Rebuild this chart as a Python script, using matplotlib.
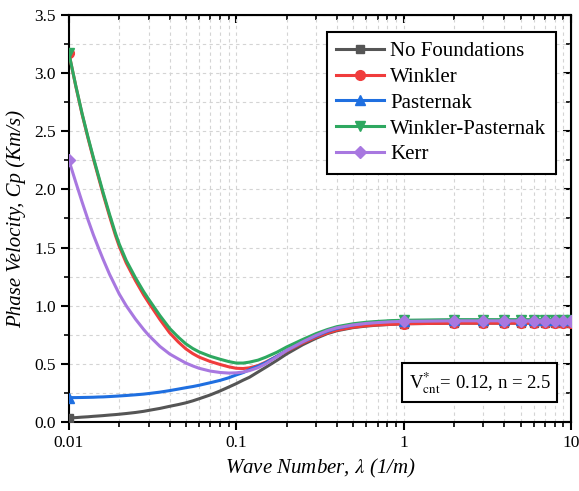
import numpy as np
import matplotlib
matplotlib.use('Agg')
import matplotlib.pyplot as plt
from matplotlib.ticker import MultipleLocator, LogLocator, FixedFormatter, FixedLocator, NullFormatter

plt.rcParams['font.family'] = 'Liberation Serif'
plt.rcParams['mathtext.fontset'] = 'stix'

# wave number (1/m)
lam = [0.01, 0.011, 0.012, 0.013, 0.014, 0.015, 0.016, 0.0175, 0.019, 0.02,
       0.022, 0.025, 0.028, 0.03, 0.035, 0.04, 0.045, 0.05, 0.055, 0.06,
       0.07, 0.08, 0.09, 0.1,
       0.11, 0.12, 0.135, 0.15, 0.175, 0.2, 0.25, 0.3, 0.35, 0.4,
       0.5, 0.6, 0.7, 0.85, 1,
       2, 3, 4, 5, 6, 7, 8, 9, 10]

no_found = [0.035, 0.038, 0.042, 0.045, 0.049, 0.052, 0.055, 0.06, 0.064, 0.067,
            0.073, 0.082, 0.092, 0.1, 0.117, 0.135, 0.15, 0.165, 0.182, 0.2,
            0.233, 0.267, 0.3, 0.33,
            0.36, 0.385, 0.43, 0.47, 0.53, 0.585, 0.665, 0.72, 0.76, 0.785,
            0.812, 0.825, 0.833, 0.84, 0.845,
            0.85, 0.85, 0.85, 0.85, 0.85, 0.85, 0.85, 0.85, 0.85]
winkler = [3.17, 2.886, 2.644, 2.442, 2.265, 2.108, 1.961, 1.769, 1.602, 1.51,
           1.368, 1.215, 1.092, 1.025, 0.881, 0.767, 0.689, 0.629, 0.588, 0.558,
           0.52, 0.495, 0.475, 0.462,
           0.46, 0.466, 0.485, 0.515, 0.565, 0.61, 0.68, 0.73, 0.765, 0.79,
           0.815, 0.828, 0.835, 0.84, 0.845,
           0.85, 0.85, 0.85, 0.85, 0.85, 0.85, 0.85, 0.85, 0.85]
pasternak = [0.21, 0.21, 0.211, 0.212, 0.213, 0.215, 0.216, 0.219, 0.222, 0.224,
             0.228, 0.234, 0.24, 0.245, 0.257, 0.27, 0.283, 0.295, 0.305, 0.316,
             0.338, 0.358, 0.38, 0.405,
             0.425, 0.45, 0.48, 0.51, 0.565, 0.615, 0.69, 0.74, 0.78, 0.805,
             0.835, 0.85, 0.86, 0.867, 0.87,
             0.875, 0.875, 0.875, 0.875, 0.875, 0.875, 0.875, 0.875, 0.875]
wink_past = [3.17, 2.89, 2.65, 2.45, 2.275, 2.12, 1.975, 1.785, 1.62, 1.53,
             1.39, 1.24, 1.12, 1.055, 0.915, 0.805, 0.73, 0.672, 0.632, 0.603,
             0.565, 0.54, 0.52, 0.507,
             0.507, 0.515, 0.532, 0.557, 0.60, 0.645, 0.71, 0.76, 0.795, 0.82,
             0.845, 0.858, 0.865, 0.872, 0.875,
             0.88, 0.88, 0.88, 0.88, 0.88, 0.88, 0.88, 0.88, 0.88]
kerr = [2.25, 2.06, 1.89, 1.74, 1.61, 1.50, 1.40, 1.27, 1.165, 1.10,
        1.00, 0.885, 0.795, 0.745, 0.65, 0.585, 0.543, 0.507, 0.482, 0.462,
        0.438, 0.426, 0.421, 0.423,
        0.43, 0.442, 0.467, 0.50, 0.56, 0.615, 0.69, 0.745, 0.785, 0.81,
        0.835, 0.848, 0.855, 0.862, 0.865,
        0.87, 0.87, 0.87, 0.87, 0.87, 0.87, 0.87, 0.87, 0.87]

names = ['No Foundations', 'Winkler', 'Pasternak', 'Winkler-Pasternak', 'Kerr']
series = [no_found, winkler, pasternak, wink_past, kerr]
colors = ['#555555', '#F03C3C', '#1F6FE0', '#2EA860', '#A878E0']
markers = ['s', 'o', '^', 'v', 'D']
msizes = [6, 7, 7, 7, 6]

# markers only at 0.01 and at the integers 1..10
mark_idx = [0] + list(range(lam.index(1), len(lam)))

fig = plt.figure(figsize=(5.79, 4.91), dpi=100)
ax = fig.add_axes([0.119, 0.1405, 0.867, 0.829])

for name, vals, c, m, ms in zip(names, series, colors, markers, msizes):
    ax.plot(lam, vals, color=c, lw=2.2, marker=m, ms=ms, markevery=mark_idx,
            label=name, zorder=3)

ax.set_xscale('log')
ax.set_xlim(0.01, 10)
ax.set_ylim(0, 3.5)
ax.xaxis.set_major_locator(FixedLocator([0.01, 0.1, 1, 10]))
ax.xaxis.set_major_formatter(FixedFormatter(['0.01', '0.1', '1', '10']))
ax.xaxis.set_minor_locator(LogLocator(base=10, subs=np.arange(2, 10)))
ax.xaxis.set_minor_formatter(NullFormatter())
ax.yaxis.set_major_locator(MultipleLocator(0.5))
ax.yaxis.set_minor_locator(MultipleLocator(0.25))
ax.yaxis.set_major_formatter(plt.FuncFormatter(lambda v, p: '%.1f' % v))

ax.tick_params(which='major', direction='out', length=6, width=1.5, labelsize=12.5)
ax.tick_params(which='minor', direction='out', length=3.5, width=1.2)
ax.grid(True, which='both', ls=(0, (3, 3)), color='#d4d4d4', lw=0.8)
for sp in ax.spines.values():
    sp.set_linewidth(1.5)

# inward ticks on top and right
top = ax.secondary_xaxis('top')
top.set_xticks([0.01, 0.1, 1, 10])
top.xaxis.set_minor_locator(LogLocator(base=10, subs=np.arange(2, 10)))
top.tick_params(which='major', direction='in', length=6, width=1.5, labeltop=False)
top.tick_params(which='minor', direction='in', length=3.5, width=1.2)
top.xaxis.set_minor_formatter(NullFormatter())
right = ax.secondary_yaxis('right')
right.yaxis.set_major_locator(MultipleLocator(0.5))
right.yaxis.set_minor_locator(MultipleLocator(0.25))
right.tick_params(which='major', direction='in', length=6, width=1.5, labelright=False)
right.tick_params(which='minor', direction='in', length=3.5, width=1.2)

ax.set_xlabel('Wave Number, $\\lambda$ (1/m)', fontsize=15, style='italic', labelpad=4)
ax.set_ylabel('Phase Velocity, Cp (Km/s)', fontsize=15, style='italic', labelpad=6)

leg = ax.legend(loc='upper right', bbox_to_anchor=(0.97, 0.958), fontsize=15,
                fancybox=False, edgecolor='black', framealpha=1,
                handlelength=2.3, handletextpad=0.3, labelspacing=0.3,
                borderpad=0.45, borderaxespad=0)
leg.get_frame().set_linewidth(1.5)

ax.text(0.96, 0.065, 'V$_{\\mathrm{cnt}}^{*}$= 0.12, n = 2.5', transform=ax.transAxes,
        ha='right', va='bottom', fontsize=13.5,
        bbox=dict(boxstyle='square,pad=0.35', fc='white', ec='black', lw=1.5))

fig.savefig('out.png', dpi=100)
